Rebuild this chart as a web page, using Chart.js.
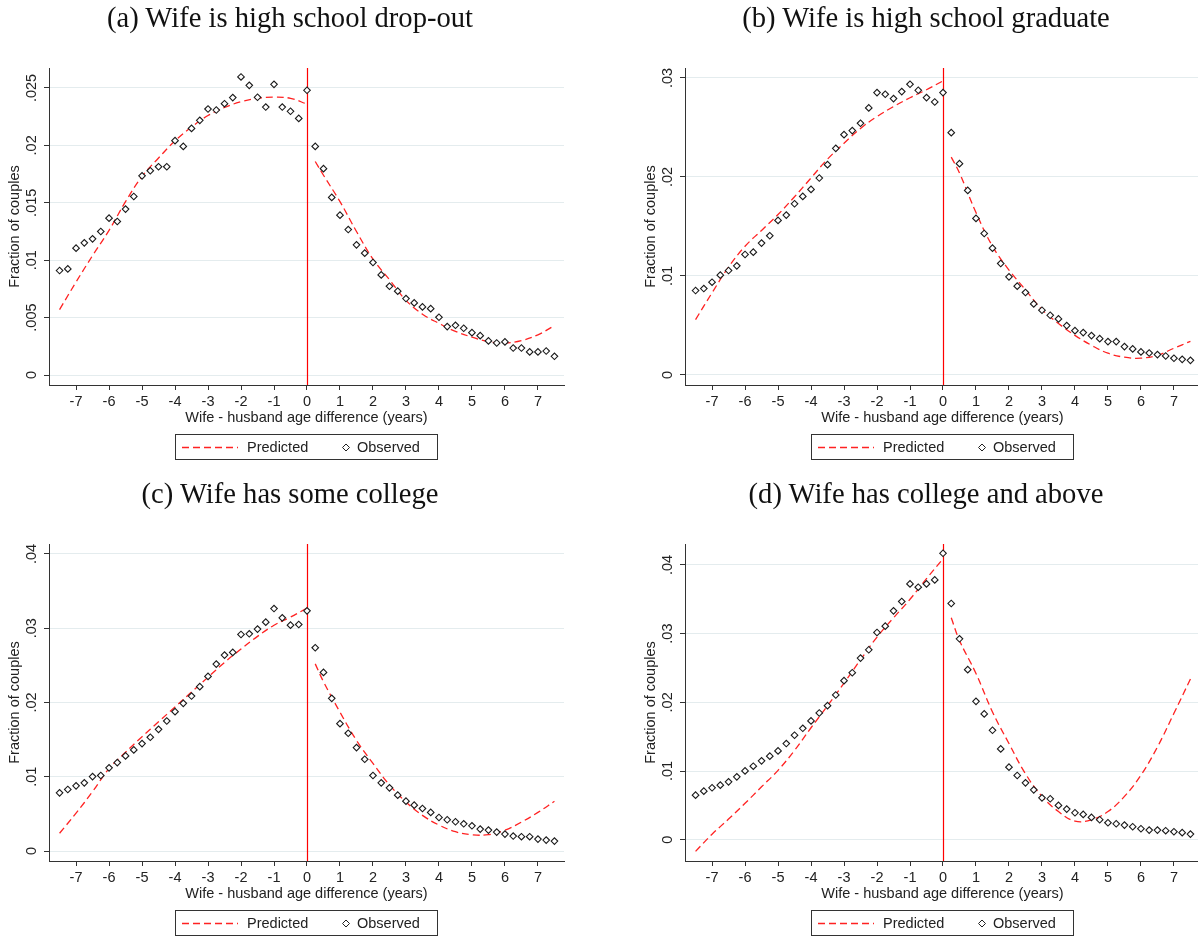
<!DOCTYPE html>
<html>
<head>
<meta charset="utf-8">
<script src="https://cdn.jsdelivr.net/npm/chart.js@4.4.0/dist/chart.umd.min.js"></script>
<style>
  body { margin: 0; background: #fff; width: 1198px; height: 936px; position: relative; overflow: hidden;
         font-family: "Liberation Sans", Arial, sans-serif; color: #222; }
  .panel { position: absolute; width: 600px; height: 470px; }
  .panel canvas { position: absolute; left: 0; top: 0; }
  .title { position: absolute; left: 0; top: 0; width: 580px; text-align: center; line-height: 36px;
           font-family: "Liberation Serif", "Times New Roman", serif; font-size: 28.6px; color: #111; }
  .legend { position: absolute; left: 175px; top: 434px; width: 261px; height: 24px; border: 1px solid #333;
            font-size: 14.5px; }
  .legend span { position: absolute; top: 3px; line-height: 18px; }
  .legend svg { position: absolute; top: 0; }
</style>
</head>
<body>

<script>
// ---------- data ----------
const ageDiff = [-7.5, -7.25, -7, -6.75, -6.5, -6.25, -6, -5.75, -5.5, -5.25, -5, -4.75, -4.5, -4.25,
  -4, -3.75, -3.5, -3.25, -3, -2.75, -2.5, -2.25, -2, -1.75, -1.5, -1.25, -1, -0.75, -0.5, -0.25, 0,
  0.25, 0.5, 0.75, 1, 1.25, 1.5, 1.75, 2, 2.25, 2.5, 2.75, 3, 3.25, 3.5, 3.75, 4, 4.25, 4.5, 4.75,
  5, 5.25, 5.5, 5.75, 6, 6.25, 6.5, 6.75, 7, 7.25, 7.5];

const predLeftX = [-7.5, -7, -6.5, -6, -5.5, -5, -4.5, -4, -3.5, -3, -2.5, -2, -1.5, -1, -0.5, 0];
const predRightX = [0.25, 0.5, 1, 1.5, 2, 2.5, 3, 3.5, 4, 4.5, 5, 5.5, 6, 6.5, 7, 7.5];

// (a) high school drop-out
const obsA = [0.0091, 0.00924, 0.01105, 0.01151, 0.01186, 0.0125, 0.01366, 0.01337, 0.01445, 0.01555,
  0.01735, 0.01779, 0.01814, 0.01814, 0.02041, 0.01991, 0.02148, 0.02218, 0.02317, 0.02308, 0.02363,
  0.02416, 0.02596, 0.02523, 0.02419, 0.02334, 0.02532, 0.02334, 0.02297, 0.02235, 0.0248,
  0.01991, 0.01797, 0.01547, 0.01392, 0.01267, 0.01134, 0.01061, 0.0098, 0.00872, 0.00773, 0.0073,
  0.00666, 0.00628, 0.00593, 0.00578, 0.00503, 0.00422, 0.00433, 0.00407, 0.00369, 0.00343, 0.00297,
  0.00279, 0.00288, 0.00235, 0.00235, 0.00201, 0.00201, 0.00209, 0.00163];
const predLeftA = [0.0057, 0.0081, 0.0104, 0.0126, 0.0151, 0.0173, 0.0189, 0.0204, 0.0216, 0.0226,
  0.0233, 0.0238, 0.0241, 0.0242, 0.0241, 0.0236];
const predRightA = [0.0186, 0.0174, 0.0151, 0.0125, 0.0101, 0.0083, 0.0065, 0.0053, 0.0045, 0.0038,
  0.0033, 0.0029, 0.0028, 0.0030, 0.0035, 0.0043];

// (b) high school graduate
const obsB = [0.00853, 0.00873, 0.00937, 0.01008, 0.01055, 0.01102, 0.01217, 0.0124, 0.01332, 0.01406,
  0.01561, 0.01615, 0.01729, 0.01803, 0.01874, 0.01989, 0.02124, 0.02289, 0.02427, 0.02468, 0.02542,
  0.02697, 0.02852, 0.02835, 0.02791, 0.02862, 0.02936, 0.02875, 0.02801, 0.02757, 0.02852,
  0.02447, 0.02134, 0.01864, 0.01581, 0.01429, 0.01281, 0.01126, 0.00991, 0.00897, 0.00833, 0.00718,
  0.00654, 0.00603, 0.00566, 0.00499, 0.00448, 0.00428, 0.00398, 0.00367, 0.00337, 0.00337, 0.00287,
  0.00263, 0.00233, 0.00222, 0.00206, 0.00192, 0.00169, 0.00158, 0.00148];
const predLeftB = [0.0056, 0.0083, 0.0109, 0.0130, 0.0146, 0.0162, 0.0180, 0.0199, 0.0218, 0.0234,
  0.0249, 0.0261, 0.0271, 0.0280, 0.0288, 0.0297];
const predRightB = [0.0220, 0.0204, 0.0164, 0.0130, 0.0106, 0.0086, 0.0066, 0.0052, 0.0040, 0.0030,
  0.0022, 0.0018, 0.0017, 0.0020, 0.0027, 0.0034];

// (c) some college
const obsC = [0.00784, 0.00829, 0.00878, 0.00918, 0.01003, 0.01017, 0.0112, 0.01191, 0.01281, 0.01362,
  0.01447, 0.01532, 0.01639, 0.01751, 0.01877, 0.01989, 0.02087, 0.02213, 0.02351, 0.02517, 0.02638,
  0.02674, 0.02916, 0.02925, 0.02988, 0.03082, 0.03265, 0.0314, 0.03041, 0.0305, 0.03234,
  0.02737, 0.02405, 0.02056, 0.01715, 0.01586, 0.01393, 0.01236, 0.01017, 0.00918, 0.00851, 0.00752,
  0.00672, 0.00618, 0.00573, 0.0052, 0.00452, 0.00421, 0.00394, 0.00367, 0.0034, 0.00296, 0.00282,
  0.00255, 0.00228, 0.00202, 0.00193, 0.00193, 0.00161, 0.00148, 0.00134];
const predLeftC = [0.0024, 0.0051, 0.0080, 0.0111, 0.0133, 0.0154, 0.0174, 0.0194, 0.0214, 0.0234,
  0.0254, 0.0272, 0.0289, 0.0304, 0.0315, 0.0327];
const predRightC = [0.0252, 0.0228, 0.0187, 0.0149, 0.0118, 0.0089, 0.0066, 0.0048, 0.0035, 0.0026,
  0.0022, 0.0022, 0.0028, 0.0039, 0.0052, 0.0067];

// (d) college and above
const obsD = [0.00649, 0.00707, 0.00756, 0.00794, 0.00843, 0.00915, 0.01002, 0.0107, 0.01148, 0.01216,
  0.01293, 0.014, 0.01521, 0.01622, 0.01729, 0.01845, 0.01952, 0.02107, 0.02315, 0.02431, 0.02644,
  0.02765, 0.03017, 0.03109, 0.03332, 0.03468, 0.03724, 0.03676, 0.03724, 0.03782, 0.0417,
  0.03439, 0.02925, 0.02475, 0.02015, 0.01831, 0.01593, 0.01322, 0.01056, 0.00935, 0.00828, 0.00726,
  0.0061, 0.00596, 0.00499, 0.00446, 0.00392, 0.00368, 0.00324, 0.00291, 0.00247, 0.00232, 0.00213,
  0.00189, 0.0016, 0.0014, 0.0014, 0.00131, 0.00116, 0.00102, 0.00082];
const predLeftD = [-0.0017, 0.0008, 0.0030, 0.0053, 0.0077, 0.0101, 0.0130, 0.0163, 0.0195, 0.0228,
  0.0262, 0.0295, 0.0323, 0.0350, 0.0380, 0.0409];
const predRightD = [0.0323, 0.0290, 0.0242, 0.0186, 0.0140, 0.0096, 0.0063, 0.0041, 0.0027, 0.0029,
  0.0041, 0.0063, 0.0094, 0.0135, 0.0184, 0.0234];

// ticks
const xTicks = [-7, -6, -5, -4, -3, -2, -1, 0, 1, 2, 3, 4, 5, 6, 7];
const xTickLabels = ['-7', '-6', '-5', '-4', '-3', '-2', '-1', '0', '1', '2', '3', '4', '5', '6', '7'];
const yTicksA = [0, 0.005, 0.01, 0.015, 0.02, 0.025];
const yLabelsA = ['0', '.005', '.01', '.015', '.02', '.025'];
const yTicksB = [0, 0.01, 0.02, 0.03];
const yLabelsB = ['0', '.01', '.02', '.03'];
const yTicksC = [0, 0.01, 0.02, 0.03, 0.04];
const yLabelsC = ['0', '.01', '.02', '.03', '.04'];
const yTicksD = [0, 0.01, 0.02, 0.03, 0.04];
const yLabelsD = ['0', '.01', '.02', '.03', '.04'];

const cutoff = 0;

// ---------- panels ----------
const panels = [
  { id: 'a', left: 0,   top: 0,   title: '(a) Wife is high school drop-out',
    obs: obsA, pl: predLeftA, pr: predRightA, yt: yTicksA, yl: yLabelsA, ymin: -0.00087, ymax: 0.02674 },
  { id: 'b', left: 636, top: 0,   title: '(b) Wife is high school graduate',
    obs: obsB, pl: predLeftB, pr: predRightB, yt: yTicksB, yl: yLabelsB, ymin: -0.00101, ymax: 0.031 },
  { id: 'c', left: 0,   top: 476, title: '(c) Wife has some college',
    obs: obsC, pl: predLeftC, pr: predRightC, yt: yTicksC, yl: yLabelsC, ymin: -0.00134, ymax: 0.04134 },
  { id: 'd', left: 636, top: 476, title: '(d) Wife has college and above',
    obs: obsD, pl: predLeftD, pr: predRightD, yt: yTicksD, yl: yLabelsD, ymin: -0.0031, ymax: 0.04305 }
];

const FONT = '"Liberation Sans", Arial, sans-serif';
const AXIS = '#333';
const RED = '#f22';

// rotated y tick labels, Stata style
const yLabelPlugin = {
  id: 'yLabels',
  afterDraw(chart) {
    const { ctx, scales: { y } } = chart;
    const labels = chart.options.plugins.yLabels.labels;
    ctx.save();
    ctx.font = '14.5px ' + FONT;
    ctx.fillStyle = '#222';
    ctx.textAlign = 'center';
    ctx.textBaseline = 'middle';
    y.ticks.forEach((t, i) => {
      ctx.save();
      ctx.translate(y.right - 17, y.getPixelForValue(t.value));
      ctx.rotate(-Math.PI / 2);
      ctx.fillText(labels[i], 0, 0);
      ctx.restore();
    });
    ctx.restore();
  }
};

// vertical line at zero age difference
const cutoffPlugin = {
  id: 'cutoffLine',
  beforeDatasetsDraw(chart) {
    const { ctx, chartArea, scales: { x } } = chart;
    const px = Math.round(x.getPixelForValue(cutoff)) + 0.5;
    ctx.save();
    ctx.setLineDash([]);
    ctx.strokeStyle = '#ff0000';
    ctx.lineWidth = 1.2;
    ctx.beginPath();
    ctx.moveTo(px, chartArea.top);
    ctx.lineTo(px, chartArea.bottom);
    ctx.stroke();
    ctx.restore();
  }
};

function pts(xs, ys) {
  return xs.map((v, i) => ({ x: v, y: ys[i] }));
}

panels.forEach(p => {
  const div = document.createElement('div');
  div.className = 'panel';
  div.style.left = p.left + 'px';
  div.style.top = p.top + 'px';
  div.innerHTML = `
    <canvas width="600" height="470"></canvas>
    <div class="title">${p.title}</div>
    <div class="legend">
      <svg width="70" height="24"><line x1="6" y1="12.5" x2="62" y2="12.5" stroke="${RED}" stroke-width="1.3" stroke-dasharray="7,4"/></svg>
      <span style="left:71px">Predicted</span>
      <svg width="12" height="24" style="left:164px"><polygon points="6,9 9.5,12.5 6,16 2.5,12.5" fill="#fff" stroke="#222" stroke-width="1"/></svg>
      <span style="left:181px">Observed</span>
    </div>`;
  document.body.appendChild(div);

  new Chart(div.querySelector('canvas'), {
    type: 'scatter',
    data: {
      datasets: [
        {
          label: 'Observed',
          data: pts(ageDiff, p.obs),
          pointStyle: 'rectRot',
          pointRadius: 3.3,
          pointBorderWidth: 1.1,
          pointBorderColor: '#1a1a1a',
          pointBackgroundColor: '#fff',
          showLine: false,
          order: 0
        },
        {
          label: 'Predicted',
          data: pts(predLeftX, p.pl),
          showLine: true,
          borderColor: RED,
          borderWidth: 1.3,
          borderDash: [7, 4],
          tension: 0.4,
          pointRadius: 0,
          order: 1
        },
        {
          label: 'Predicted (right)',
          data: pts(predRightX, p.pr),
          showLine: true,
          borderColor: RED,
          borderWidth: 1.3,
          borderDash: [7, 4],
          tension: 0.4,
          pointRadius: 0,
          order: 1
        }
      ]
    },
    options: {
      responsive: false,
      animation: false,
      devicePixelRatio: 1,
      layout: { padding: { left: 0, top: 68, right: 36, bottom: 0 } },
      plugins: {
        legend: { display: false },
        tooltip: { enabled: false },
        yLabels: { labels: p.yl }
      },
      scales: {
        x: {
          type: 'linear',
          min: -7.82,
          max: 7.79,
          afterBuildTicks: s => { s.ticks = xTicks.map(v => ({ value: v })); },
          afterFit: s => { s.height = 85; },
          ticks: {
            color: '#222',
            font: { family: FONT, size: 14.5 },
            padding: 3,
            maxRotation: 0,
            callback: (v, i) => xTickLabels[i]
          },
          grid: { drawOnChartArea: false, drawTicks: true, tickLength: 5, tickColor: AXIS },
          border: { display: true, color: AXIS, width: 1 },
          title: {
            display: true,
            text: 'Wife - husband age difference (years)',
            color: '#222',
            font: { family: FONT, size: 14.5 },
            padding: { top: 0, bottom: 43 }
          }
        },
        y: {
          type: 'linear',
          min: p.ymin,
          max: p.ymax,
          afterBuildTicks: s => { s.ticks = p.yt.map(v => ({ value: v })); },
          afterFit: s => { s.width = 49; },
          ticks: { display: false },
          grid: { color: '#e4ecee', lineWidth: 1, drawTicks: true, tickLength: 5, tickColor: AXIS },
          border: { display: true, color: AXIS, width: 1 },
          title: {
            display: true,
            text: 'Fraction of couples',
            color: '#222',
            font: { family: FONT, size: 14.5 },
            padding: { top: 6, bottom: 0 }
          }
        }
      }
    },
    plugins: [yLabelPlugin, cutoffPlugin]
  });
});
</script>
</body>
</html>
